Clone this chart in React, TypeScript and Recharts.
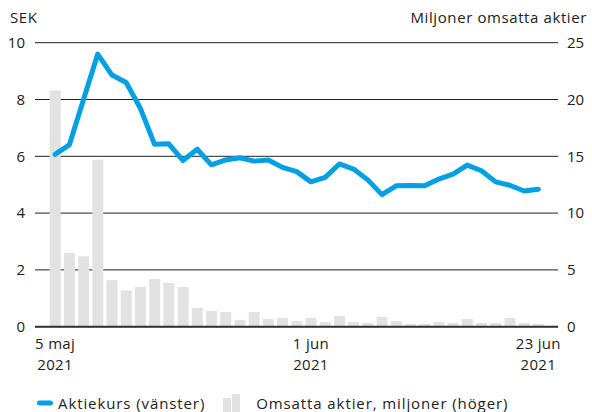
import React from "react";
import { ComposedChart, Bar, Line, XAxis, YAxis, CartesianGrid } from "recharts";

const dates = [
  "5 maj", "6 maj", "7 maj", "10 maj", "11 maj", "12 maj", "14 maj", "17 maj", "18 maj", "19 maj",
  "20 maj", "21 maj", "24 maj", "25 maj", "26 maj", "27 maj", "28 maj", "31 maj",
  "1 jun", "2 jun", "3 jun", "4 jun", "7 jun", "8 jun", "9 jun", "10 jun", "11 jun",
  "14 jun", "15 jun", "16 jun", "17 jun", "18 jun", "21 jun", "22 jun", "23 jun",
];

const price = [
  6.07, 6.4, 8.0, 9.6, 8.86, 8.6, 7.69, 6.42, 6.44, 5.85,
  6.25, 5.7, 5.87, 5.95, 5.83, 5.87, 5.61, 5.46,
  5.1, 5.26, 5.73, 5.55, 5.17, 4.65, 4.96, 4.97, 4.96,
  5.2, 5.37, 5.69, 5.49, 5.1, 4.98, 4.78, 4.84,
];

const volume = [
  20.8, 6.5, 6.2, 14.7, 4.1, 3.2, 3.5, 4.2, 3.85, 3.5,
  1.65, 1.38, 1.3, 0.6, 1.3, 0.68, 0.77, 0.5,
  0.77, 0.41, 0.94, 0.41, 0.33, 0.85, 0.5, 0.24, 0.24,
  0.41, 0.33, 0.68, 0.33, 0.33, 0.77, 0.33, 0.24,
];

const xTicks = ["5 maj", "1 jun", "23 jun"];
const tickYear = "2021";
const leftTicks = [0, 2, 4, 6, 8, 10];
const rightTicks = [0, 5, 10, 15, 20, 25];

const data = dates.map((d, i) => ({ date: d, price: price[i], volume: volume[i] }));

const FONT = "'Open Sans', sans-serif";
const BLUE = "#00a0e3";
const GREY = "#e1e2e1";
const TEXT = "#222";
const LS = "0.6px";

const XTick = (props: any) => {
  const { x, y, payload } = props;
  return (
    <text x={x} y={y} textAnchor="middle" fill={TEXT} fontSize={15} fontFamily={FONT} style={{ letterSpacing: "0.3px" }}>
      <tspan x={x} dy={14}>{payload.value}</tspan>
      <tspan x={x} dy={21}>{tickYear}</tspan>
    </text>
  );
};

export default function App() {
  return (
    <div style={{ position: "absolute", left: 0, top: 0, width: 592, height: 412, background: "#fff", fontFamily: FONT }}>
      <div style={{ position: "absolute", left: 10, top: 7, fontSize: 15, color: TEXT, letterSpacing: LS }}>SEK</div>
      <div style={{ position: "absolute", right: 5, top: 7, fontSize: 15, color: TEXT, letterSpacing: LS }}>Miljoner omsatta aktier</div>
      <ComposedChart
        width={592}
        height={412}
        data={data}
        margin={{ top: 42.7, right: 0, bottom: 0, left: 0 }}
        barCategoryGap="12%"
      >
        <CartesianGrid yAxisId="left" vertical={false} stroke="#222" strokeWidth={1} />
        <XAxis
          dataKey="date"
          ticks={xTicks}
          interval={0}
          tick={<XTick />}
          tickLine={false}
          axisLine={{ stroke: "#333", strokeWidth: 2 }}
          padding={{ left: 13, right: 12.6 }}
          height={85.3}
        />
        <YAxis
          yAxisId="left"
          orientation="left"
          domain={[0, 10]}
          ticks={leftTicks}
          width={35}
          axisLine={false}
          tickLine={false}
          tickMargin={4}
          tick={{ fill: TEXT, fontSize: 15, fontFamily: FONT }}
        />
        <YAxis
          yAxisId="right"
          orientation="right"
          domain={[0, 25]}
          ticks={rightTicks}
          width={34}
          axisLine={false}
          tickLine={false}
          tickMargin={3}
          tick={{ fill: TEXT, fontSize: 15, fontFamily: FONT, textAnchor: "start" }}
        />
        <Bar yAxisId="right" dataKey="volume" fill={GREY} isAnimationActive={false} />
        <Line
          yAxisId="left"
          dataKey="price"
          stroke={BLUE}
          strokeWidth={5}
          dot={false}
          type="linear"
          strokeLinejoin="round"
          strokeLinecap="round"
          isAnimationActive={false}
        />
      </ComposedChart>
      <div style={{ position: "absolute", left: 37, top: 393, display: "flex", alignItems: "center", fontSize: 15, color: TEXT, whiteSpace: "nowrap", letterSpacing: "0.9px" }}>
        <svg width={16} height={8} style={{ marginRight: 5 }}>
          <line x1={2.5} y1={4} x2={13.5} y2={4} stroke={BLUE} strokeWidth={5} strokeLinecap="round" />
        </svg>
        <span>Aktiekurs (vänster)</span>
        <svg width={20} height={18} style={{ marginLeft: 17, marginRight: 14 }}>
          <rect x={1} y={4} width={8} height={14} fill={GREY} />
          <rect x={10} y={0} width={8} height={18} fill={GREY} />
        </svg>
        <span>Omsatta aktier, miljoner (höger)</span>
      </div>
    </div>
  );
}
